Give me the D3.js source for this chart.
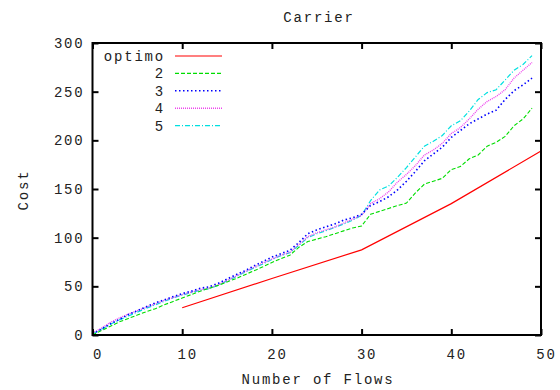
<!DOCTYPE html>
<html>
<head>
<meta charset="utf-8">
<script src="https://cdn.jsdelivr.net/npm/d3@7"></script>
<style>
  html, body { margin: 0; padding: 0; background: #fff; }
  svg text { font-family: "Liberation Mono", "DejaVu Sans Mono", monospace; font-size: 14px; letter-spacing: 1.8px; fill: #222; }
</style>
</head>
<body>
<svg id="chart" width="560" height="390"></svg>
<script>
// Cost versus number of flows for the carrier scenario
const flows = d3.range(0, 50);
const optimoFlows = [10, 20, 30, 40, 50];
const optimoCost = [28, 58, 87.5, 135, 189];

const cost2 = [0, 4.5, 9, 13.5, 17, 20.5, 24, 27, 31, 34.5, 38, 41.5, 45, 48, 51, 54.5, 58, 62, 66, 70,
  74.5, 78.5, 82, 90, 96, 98.5, 101, 104, 107, 110, 112, 124, 127, 130, 133, 135.5, 146, 155, 158, 161,
  170, 173, 181, 185, 194, 198, 204, 215, 222, 233];
const cost3 = [1, 6, 11.5, 16, 21, 25, 29, 33, 36, 39.5, 42.5, 45, 48, 49.5, 53, 57.5, 62, 66, 71, 75.5,
  80, 83.5, 87, 95, 104, 108, 111, 114, 118, 120.5, 124, 133, 137, 142, 149, 158, 168, 179, 186, 193,
  203, 210, 217, 222, 227, 231, 242, 251, 257, 264];
const cost4 = [2, 7, 13, 17.5, 21.5, 25, 28.5, 32, 35.5, 38.5, 41.5, 44, 46.5, 48, 51.5, 56, 60.5, 65, 69.5, 74,
  78, 82, 85, 93, 101, 105, 108, 111, 115, 119, 123, 135, 140, 147, 157, 165, 174, 185, 190, 197,
  207, 213, 222, 232, 240, 245, 252, 264, 272, 280];
const cost5 = [1, 6, 11, 15.5, 19.5, 23.5, 27.5, 31, 34.5, 38, 41, 43.5, 46, 47.5, 51, 55.5, 60, 64.5, 69, 73,
  77.5, 81.5, 84.5, 92, 100, 104, 107, 110.5, 114, 118, 123, 138, 149, 153, 162, 172, 183, 194, 199, 205,
  215, 220, 230, 242, 249, 252, 262, 272, 278, 287];

const xTicks = [0, 10, 20, 30, 40, 50];
const yTicks = [0, 50, 100, 150, 200, 250, 300];

const seriesNames = ["optimo", "2", "3", "4", "5"];
const seriesColors = ["#ff0000", "#00dd00", "#0000ff", "#ee44ee", "#00e0e0"];
const seriesDash = [null, "4,2", "1.5,2.5", "1,1", "5,2,1,2"];
const seriesWidth = [1.2, 1.1, 1.6, 1.4, 1.2];

const series = [
  optimoFlows.map((f, i) => [f, optimoCost[i]]),
  flows.map((f, i) => [f, cost2[i]]),
  flows.map((f, i) => [f, cost3[i]]),
  flows.map((f, i) => [f, cost4[i]]),
  flows.map((f, i) => [f, cost5[i]])
];

const svg = d3.select("#chart");
const plotLeft = 92.5, plotRight = 541, plotTop = 43, plotBottom = 335;

const x = d3.scaleLinear().domain([0, 50]).range([plotLeft, plotRight]);
const y = d3.scaleLinear().domain([0, 300]).range([plotBottom, plotTop]);

// Data lines (drawn back to front: 5, 4, 3, 2, optimo)
const line = d3.line().x(d => x(d[0])).y(d => y(d[1]));
const order = [4, 3, 2, 1, 0];
svg.append("g").selectAll("path")
  .data(order)
  .join("path")
  .attr("d", i => line(series[i]))
  .attr("fill", "none")
  .attr("stroke", i => seriesColors[i])
  .attr("stroke-width", i => seriesWidth[i])
  .attr("stroke-dasharray", i => seriesDash[i]);

// Axes with inward ticks, mirrored on the top and right edges
const tickLen = 6;
const axisBottom = d3.axisBottom(x).tickValues(xTicks).tickSizeInner(-tickLen).tickSizeOuter(0).tickPadding(14);
const axisTop = d3.axisTop(x).tickValues(xTicks).tickSizeInner(-tickLen).tickSizeOuter(0).tickFormat("");
const axisLeft = d3.axisLeft(y).tickValues(yTicks).tickSizeInner(-tickLen).tickSizeOuter(0).tickPadding(8);
const axisRight = d3.axisRight(y).tickValues(yTicks).tickSizeInner(-tickLen).tickSizeOuter(0).tickFormat("");

function styleAxis(g) {
  g.select(".domain").remove();
  g.selectAll(".tick line").attr("stroke", "#000").attr("stroke-width", 2);
  g.selectAll(".tick text").attr("fill", "#222").attr("font-family", null).attr("font-size", null);
}
svg.append("g").attr("transform", `translate(0,${plotBottom})`).call(axisBottom).call(styleAxis)
  .selectAll(".tick text").attr("dx", 5);
svg.append("g").attr("transform", `translate(0,${plotTop})`).call(axisTop).call(styleAxis);
svg.append("g").attr("transform", `translate(${plotLeft},0)`).call(axisLeft).call(styleAxis);
svg.append("g").attr("transform", `translate(${plotRight},0)`).call(axisRight).call(styleAxis);

// Plot frame
svg.append("rect")
  .attr("x", plotLeft).attr("y", plotTop)
  .attr("width", plotRight - plotLeft).attr("height", plotBottom - plotTop)
  .attr("fill", "none").attr("stroke", "#000").attr("stroke-width", 2);

// Title and axis labels
svg.append("text").attr("x", 319).attr("y", 22).attr("text-anchor", "middle").text("Carrier");
svg.append("text").attr("x", 318).attr("y", 384).attr("text-anchor", "middle").text("Number of Flows");
svg.append("text").attr("transform", "translate(28,190) rotate(-90)").attr("text-anchor", "middle").text("Cost");

// Legend
const legendY0 = 56, legendStep = 17.4;
const legend = svg.append("g").selectAll("g")
  .data(seriesNames)
  .join("g")
  .attr("transform", (d, i) => `translate(0,${legendY0 + i * legendStep})`);
legend.append("text")
  .attr("x", 165).attr("y", 0).attr("dy", "0.35em")
  .attr("text-anchor", "end")
  .text(d => d);
legend.append("line")
  .attr("x1", 175).attr("x2", 222).attr("y1", 0).attr("y2", 0)
  .attr("stroke", (d, i) => seriesColors[i])
  .attr("stroke-width", (d, i) => seriesWidth[i])
  .attr("stroke-dasharray", (d, i) => seriesDash[i]);
</script>
</body>
</html>
